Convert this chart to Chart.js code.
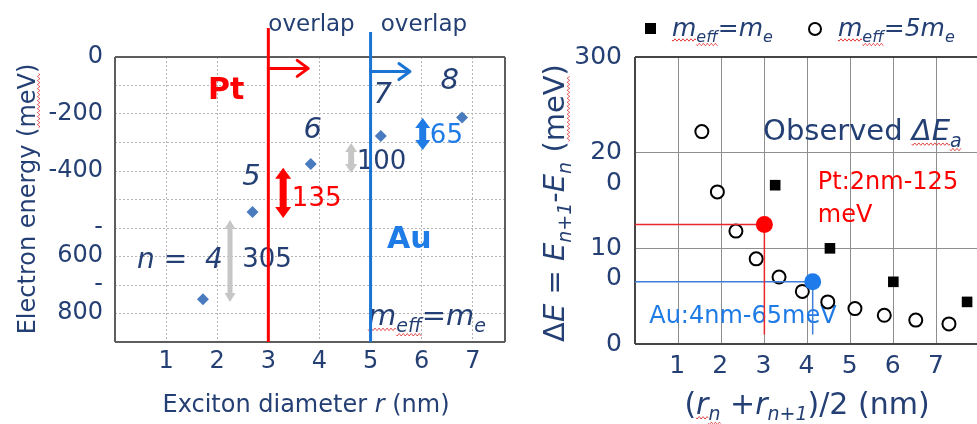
<!DOCTYPE html>
<html>
<head>
<meta charset="utf-8">
<script src="https://cdn.jsdelivr.net/npm/chart.js@4.4.1/dist/chart.umd.min.js"></script>
<style>
  html, body { margin: 0; padding: 0; background: #fff; overflow: hidden; }
  #wrap { position: relative; width: 977px; height: 424px; }
  #left { position: absolute; left: 0; top: 0; }
  #right { position: absolute; left: 510px; top: 0; }
</style>
</head>
<body>
<div id="wrap">
  <canvas id="left" width="510" height="424"></canvas>
  <canvas id="right" width="467" height="424"></canvas>
</div>
<script>
// ---- Left panel: electron energy levels vs exciton diameter ----
const levelN = [4, 5, 6, 7, 8];
const levelDiameter = [1.72, 2.69, 3.83, 5.20, 6.79];      // nm
const levelEnergy = [-850, -544, -375, -277, -212];         // meV
const overlapDiameter = [3, 5];                              // Pt, Au onset (nm)
const energyTicks = [0, -200, -400, -600, -800];
const energyTickText = [['0'], ['-200'], ['-400'], ['', '-', '600'], ['', '-', '800']];
const diameterTicks = [1, 2, 3, 4, 5, 6, 7];
const gapLabels = ['305', '135', '100', '65'];

// ---- Right panel: level spacing vs mean diameter ----
const meanDiameterMe = [3.25, 4.52, 5.99, 7.70];
const spacingMe = [166, 100, 65, 44];                        // m_eff = m_e
const meanDiameter5Me = [1.55, 1.91, 2.34, 2.81, 3.34, 3.88, 4.47, 5.10, 5.78, 6.51, 7.28];
const spacing5Me = [222, 159, 118, 89, 70, 55, 44, 37, 30, 25, 21]; // m_eff = 5 m_e
const observedMetal = ['Pt', 'Au'];
const observedDiameter = [3.0, 4.12];
const observedGap = [125, 65];                               // meV
const spacingTicks = [0, 100, 200, 300];
const spacingTickText = [['0'], ['', '10', '0'], ['', '20', '0'], ['300']];

const FAM = '"DejaVu Sans", sans-serif';
const NAVY = '#243F73';
const RED = '#FF0000';
const BLUE_LINE = '#1A74D4';
const BLUE_TXT = '#1F7BE6';
const GRAY_ARROW = '#C6C6C6';
const DIAMOND = '#4A7BBF';

function fontOf(r, size) {
  return (r.i ? 'italic ' : '') + (r.b ? 'bold ' : '') + size + 'px ' + FAM;
}
function wavy(ctx, x0, x1, y) {
  ctx.save();
  ctx.strokeStyle = '#E03A3A';
  ctx.lineWidth = 1;
  ctx.beginPath();
  for (let x = x0; x <= x1; x += 1) {
    const yy = y + 1.2 * Math.sin((x - x0) / 4 * Math.PI * 2);
    if (x === x0) ctx.moveTo(x, yy); else ctx.lineTo(x, yy);
  }
  ctx.stroke();
  ctx.restore();
}
// Draws a run of text pieces (italic / bold / subscript / wavy underline)
function drawRich(ctx, px, py, runs, o) {
  const size = o.size || 24;
  ctx.save();
  ctx.translate(px, py);
  if (o.rot) ctx.rotate(o.rot);
  const parts = runs.map(r => {
    const sz = r.s ? Math.round(size * 0.64) : size;
    const font = fontOf(r, sz);
    ctx.font = font;
    return { r, font, w: ctx.measureText(r.t).width };
  });
  const total = parts.reduce((a, p) => a + p.w, 0);
  let x = o.align === 'center' ? -total / 2 : (o.align === 'right' ? -total : 0);
  const base = size * 0.36;
  ctx.fillStyle = o.color || NAVY;
  ctx.textAlign = 'left';
  ctx.textBaseline = 'alphabetic';
  for (const p of parts) {
    ctx.font = p.font;
    const yb = base + (p.r.s ? size * 0.22 : 0);
    ctx.fillText(p.r.t, x, yb);
    if (p.r.w) wavy(ctx, x, x + p.w, yb + (p.r.s ? 3 : 4));
    x += p.w;
  }
  ctx.restore();
}
function doubleArrow(ctx, x, y0, y1, shaft, head, headLen, color) {
  const top = Math.min(y0, y1), bot = Math.max(y0, y1);
  ctx.save();
  ctx.fillStyle = color;
  ctx.beginPath();
  ctx.moveTo(x, top);
  ctx.lineTo(x + head / 2, top + headLen);
  ctx.lineTo(x + shaft / 2, top + headLen);
  ctx.lineTo(x + shaft / 2, bot - headLen);
  ctx.lineTo(x + head / 2, bot - headLen);
  ctx.lineTo(x, bot);
  ctx.lineTo(x - head / 2, bot - headLen);
  ctx.lineTo(x - shaft / 2, bot - headLen);
  ctx.lineTo(x - shaft / 2, top + headLen);
  ctx.lineTo(x - head / 2, top + headLen);
  ctx.closePath();
  ctx.fill();
  ctx.restore();
}
function rightArrow(ctx, x0, x1, y, color) {
  ctx.save();
  ctx.strokeStyle = color;
  ctx.lineWidth = 3;
  ctx.lineCap = 'round';
  ctx.lineJoin = 'round';
  ctx.beginPath();
  ctx.moveTo(x0, y); ctx.lineTo(x1, y);
  ctx.moveTo(x1 - 11, y - 8); ctx.lineTo(x1, y); ctx.lineTo(x1 - 11, y + 8);
  ctx.stroke();
  ctx.restore();
}
function frame(ctx, a, color, width, sides) {
  ctx.save();
  ctx.strokeStyle = color;
  ctx.lineWidth = width;
  ctx.beginPath();
  if (sides.includes('t')) { ctx.moveTo(a.left, a.top); ctx.lineTo(a.right, a.top); }
  if (sides.includes('b')) { ctx.moveTo(a.left, a.bottom); ctx.lineTo(a.right, a.bottom); }
  if (sides.includes('l')) { ctx.moveTo(a.left, a.top); ctx.lineTo(a.left, a.bottom); }
  if (sides.includes('r')) { ctx.moveTo(a.right, a.top); ctx.lineTo(a.right, a.bottom); }
  ctx.stroke();
  ctx.restore();
}

// Annotations of the energy diagram, in data units (nm, meV)
const leftNotes = [
  { x: 3.0, y: 119, runs: [{ t: 'overlap' }], size: 23 },
  { x: 5.2, y: 119, runs: [{ t: 'overlap' }], size: 23 },
  { x: 1.82, y: -109, runs: [{ t: 'Pt', b: 1 }], size: 30, color: RED },
  { x: 5.32, y: -632, runs: [{ t: 'Au', b: 1 }], size: 30, color: BLUE_TXT },
  { x: 0.43, y: -705, runs: [{ t: 'n', i: 1 }, { t: ' = ' }, { t: ' ' + levelN[0], i: 1 }], size: 28 },
  { x: 2.49, y: -705, runs: [{ t: gapLabels[0] }], size: 26 },
  { x: 2.67, y: -414, runs: [{ t: String(levelN[1]), i: 1 }], size: 29, align: 'center' },
  { x: 3.87, y: -246, runs: [{ t: String(levelN[2]), i: 1 }], size: 29, align: 'center' },
  { x: 5.24, y: -126, runs: [{ t: String(levelN[3]), i: 1 }], size: 29, align: 'center' },
  { x: 6.55, y: -74, runs: [{ t: String(levelN[4]), i: 1 }], size: 29, align: 'center' },
  { x: 3.46, y: -491, runs: [{ t: gapLabels[1] }], size: 26, color: RED },
  { x: 4.73, y: -361, runs: [{ t: gapLabels[2] }], size: 26 },
  { x: 6.16, y: -270, runs: [{ t: gapLabels[3] }], size: 26, color: BLUE_TXT },
  { x: 4.95, y: -905, runs: [{ t: 'm', i: 1, w: 1 }, { t: 'eff', i: 1, s: 1, w: 1 }, { t: '=m', i: 1 }, { t: 'e', i: 1, s: 1 }], size: 29 }
];
const leftGapArrows = [
  { x: 2.25, y0: -572, y1: -860, shaft: 5, head: 11, len: 9, color: GRAY_ARROW },
  { x: 3.29, y0: -389, y1: -565, shaft: 7, head: 16, len: 11, color: RED },
  { x: 4.62, y0: -302, y1: -407, shaft: 6, head: 12, len: 9, color: GRAY_ARROW },
  { x: 6.02, y0: -214, y1: -326, shaft: 7, head: 15, len: 10, color: BLUE_TXT }
];
const leftOnsetArrows = [
  { x0: 3.0, x1: 3.78, y: -40, color: RED },
  { x0: 5.0, x1: 5.77, y: -51, color: BLUE_LINE }
];

const leftDecor = {
  id: 'leftDecor',
  beforeDatasetsDraw(chart) {
    const { ctx, chartArea: a, scales: { x, y } } = chart;
    frame(ctx, a, '#5E5E5E', 2, 'tblr');
    leftGapArrows.forEach(g => doubleArrow(ctx, x.getPixelForValue(g.x), y.getPixelForValue(g.y0),
      y.getPixelForValue(g.y1), g.shaft, g.head, g.len, g.color));
    leftNotes.forEach(n => drawRich(ctx, x.getPixelForValue(n.x), y.getPixelForValue(n.y), n.runs,
      { size: n.size, color: n.color, align: n.align }));
  },
  afterDatasetsDraw(chart) {
    const { ctx, scales: { x, y } } = chart;
    leftOnsetArrows.forEach(r => rightArrow(ctx, x.getPixelForValue(r.x0), x.getPixelForValue(r.x1),
      y.getPixelForValue(r.y), r.color));
  },
  afterDraw(chart) {
    const { ctx, chartArea: a } = chart;
    drawRich(ctx, (a.left + a.right) / 2 - 4, 403,
      [{ t: 'Exciton diameter ' }, { t: 'r', i: 1 }, { t: ' (nm)' }], { size: 24, align: 'center' });
    drawRich(ctx, 26, 199,
      [{ t: 'Electron energy (' }, { t: 'meV', w: 1 }, { t: ')' }], { size: 24, align: 'center', rot: -Math.PI / 2 });
  }
};

new Chart(document.getElementById('left'), {
  type: 'scatter',
  data: {
    datasets: [
      {
        data: levelDiameter.map((d, i) => ({ x: d, y: levelEnergy[i] })),
        pointStyle: 'rectRot', pointRadius: 6,
        backgroundColor: DIAMOND, borderColor: DIAMOND, borderWidth: 0
      },
      {
        type: 'line', data: [{ x: overlapDiameter[0], y: -1000 }, { x: overlapDiameter[0], y: 102 }],
        borderColor: RED, borderWidth: 3, pointRadius: 0, clip: false
      },
      {
        type: 'line', data: [{ x: overlapDiameter[1], y: -1000 }, { x: overlapDiameter[1], y: 88 }],
        borderColor: BLUE_LINE, borderWidth: 3, pointRadius: 0, clip: false
      }
    ]
  },
  options: {
    responsive: false, animation: false, events: [],
    layout: { autoPadding: false, padding: { top: 57, right: 5, left: 0, bottom: 0 } },
    plugins: { legend: { display: false }, tooltip: { enabled: false } },
    scales: {
      x: {
        type: 'linear', min: 0, max: 7.63,
        afterFit: s => { s.height = 82; s.paddingRight = 0; },
        ticks: {
          stepSize: 1, autoSkip: false, includeBounds: false, maxRotation: 0, padding: 5, color: NAVY,
          font: { family: FAM, size: 24 },
          callback: v => diameterTicks.includes(v) ? String(v) : ''
        },
        grid: { color: c => (c.tick && Number.isInteger(c.tick.value) && c.tick.value > 0) ? '#B4B4B4' : 'rgba(0,0,0,0)', drawTicks: false, lineWidth: 1 },
        border: { display: false, dash: [2, 2] }
      },
      y: {
        type: 'linear', min: -1000, max: 0,
        afterFit: s => { s.width = 115; },
        ticks: {
          stepSize: 100, autoSkip: false, padding: 12, color: NAVY,
          font: { family: FAM, size: 24, lineHeight: 1.15 },
          callback: v => { const k = energyTicks.indexOf(v); return k >= 0 ? energyTickText[k] : ''; }
        },
        grid: { color: c => (c.tick && c.tick.value > -1000 && c.tick.value < 0) ? '#B4B4B4' : 'rgba(0,0,0,0)', drawTicks: false, lineWidth: 1 },
        border: { display: false, dash: [2, 2] }
      }
    }
  },
  plugins: [leftDecor]
});

// ---- Right panel ----
const rightNotes = [
  { x: 2.97, y: 224, runs: [{ t: 'Observed ' }, { t: 'ΔE', i: 1, w: 1 }, { t: 'a', i: 1, s: 1, w: 1 }], size: 29 },
  { x: 4.24, y: 171.5, runs: [{ t: observedMetal[0] + ':2nm-' + observedGap[0] }], size: 24, color: RED },
  { x: 4.24, y: 137, runs: [{ t: 'meV' }], size: 24, color: RED },
  { x: 0.33, y: 30.6, runs: [{ t: observedMetal[1] + ':4nm-' + observedGap[1] + 'meV' }], size: 24, color: BLUE_TXT }
];

const rightDecor = {
  id: 'rightDecor',
  beforeDatasetsDraw(chart) {
    const { ctx, chartArea: a, scales: { x, y } } = chart;
    frame(ctx, a, '#454545', 2, 'tbl');
    rightNotes.forEach(n => drawRich(ctx, x.getPixelForValue(n.x), y.getPixelForValue(n.y), n.runs,
      { size: n.size, color: n.color, align: n.align }));
  },
  afterDraw(chart) {
    const { ctx, chartArea: a } = chart;
    // legend
    ctx.save();
    ctx.fillStyle = '#000';
    ctx.fillRect(a.left + 10, a.top - 34, 11, 11);
    ctx.strokeStyle = '#000';
    ctx.lineWidth = 2;
    ctx.beginPath();
    ctx.arc(a.left + 180, a.top - 28, 6, 0, Math.PI * 2);
    ctx.stroke();
    ctx.restore();
    drawRich(ctx, a.left + 37, a.top - 30,
      [{ t: 'm', i: 1, w: 1 }, { t: 'eff', i: 1, s: 1, w: 1 }, { t: '=m', i: 1 }, { t: 'e', i: 1, s: 1 }], { size: 25 });
    drawRich(ctx, a.left + 203, a.top - 30,
      [{ t: 'm', i: 1, w: 1 }, { t: 'eff', i: 1, s: 1, w: 1 }, { t: '=5m', i: 1 }, { t: 'e', i: 1, s: 1 }], { size: 25 });
    // axis titles
    drawRich(ctx, 297, 403,
      [{ t: '(' }, { t: 'r', i: 1, w: 1 }, { t: 'n', i: 1, s: 1, w: 1 }, { t: ' +' }, { t: 'r', i: 1 },
       { t: 'n+1', i: 1, s: 1 }, { t: ')/2 (nm)' }], { size: 30, align: 'center' });
    drawRich(ctx, 44, 203,
      [{ t: 'Δ' }, { t: 'E', i: 1 }, { t: ' = ' }, { t: 'E', i: 1 }, { t: 'n+1', i: 1, s: 1 }, { t: '-' },
       { t: 'E', i: 1 }, { t: 'n', i: 1, s: 1 }, { t: ' (' }, { t: 'meV', w: 1 }, { t: ')' }],
      { size: 29, align: 'center', rot: -Math.PI / 2 });
  }
};

const observedLine = k => [
  { x: 0, y: observedGap[k] },
  { x: observedDiameter[k], y: observedGap[k] },
  { x: observedDiameter[k], y: 10 }
];

new Chart(document.getElementById('right'), {
  type: 'scatter',
  data: {
    datasets: [
      {
        type: 'line', data: observedLine(0), borderColor: '#E8282C', borderWidth: 1.5,
        pointRadius: [0, 8.5, 0], pointBackgroundColor: RED, pointBorderWidth: 0
      },
      {
        type: 'line', data: observedLine(1), borderColor: '#3F7FDA', borderWidth: 1.5,
        pointRadius: [0, 8.5, 0], pointBackgroundColor: '#1F7BEA', pointBorderWidth: 0
      },
      {
        data: meanDiameterMe.map((d, i) => ({ x: d, y: spacingMe[i] })),
        pointStyle: 'rect', pointRadius: 7.5, backgroundColor: '#000', borderWidth: 0
      },
      {
        data: meanDiameter5Me.map((d, i) => ({ x: d, y: spacing5Me[i] })),
        pointStyle: 'circle', pointRadius: 6.5, backgroundColor: '#fff', borderColor: '#000', borderWidth: 2
      }
    ]
  },
  options: {
    responsive: false, animation: false, events: [],
    layout: { autoPadding: false, padding: { top: 57, right: 0, left: 0, bottom: 0 } },
    plugins: { legend: { display: false }, tooltip: { enabled: false } },
    scales: {
      x: {
        type: 'linear', min: 0, max: 7.93,
        afterFit: s => { s.height = 80; s.paddingRight = 0; },
        ticks: {
          stepSize: 1, autoSkip: false, includeBounds: false, maxRotation: 0, padding: 7, labelOffset: -1, color: NAVY,
          font: { family: FAM, size: 25 },
          callback: v => diameterTicks.includes(v) ? String(v) : ''
        },
        grid: { color: c => (c.tick && Number.isInteger(c.tick.value) && c.tick.value > 0) ? '#8E8E8E' : 'rgba(0,0,0,0)', drawTicks: false, lineWidth: 1 },
        border: { display: false }
      },
      y: {
        type: 'linear', min: 0, max: 300,
        afterFit: s => { s.width = 125; },
        ticks: {
          stepSize: 100, autoSkip: false, padding: 13, color: NAVY,
          font: { family: FAM, size: 25, lineHeight: 1.22 },
          callback: v => { const k = spacingTicks.indexOf(v); return k >= 0 ? spacingTickText[k] : ''; }
        },
        grid: { color: c => (c.tick && c.tick.value > 0 && c.tick.value < 300) ? '#8E8E8E' : 'rgba(0,0,0,0)', drawTicks: false, lineWidth: 1 },
        border: { display: false }
      }
    }
  },
  plugins: [rightDecor]
});
</script>
</body>
</html>
